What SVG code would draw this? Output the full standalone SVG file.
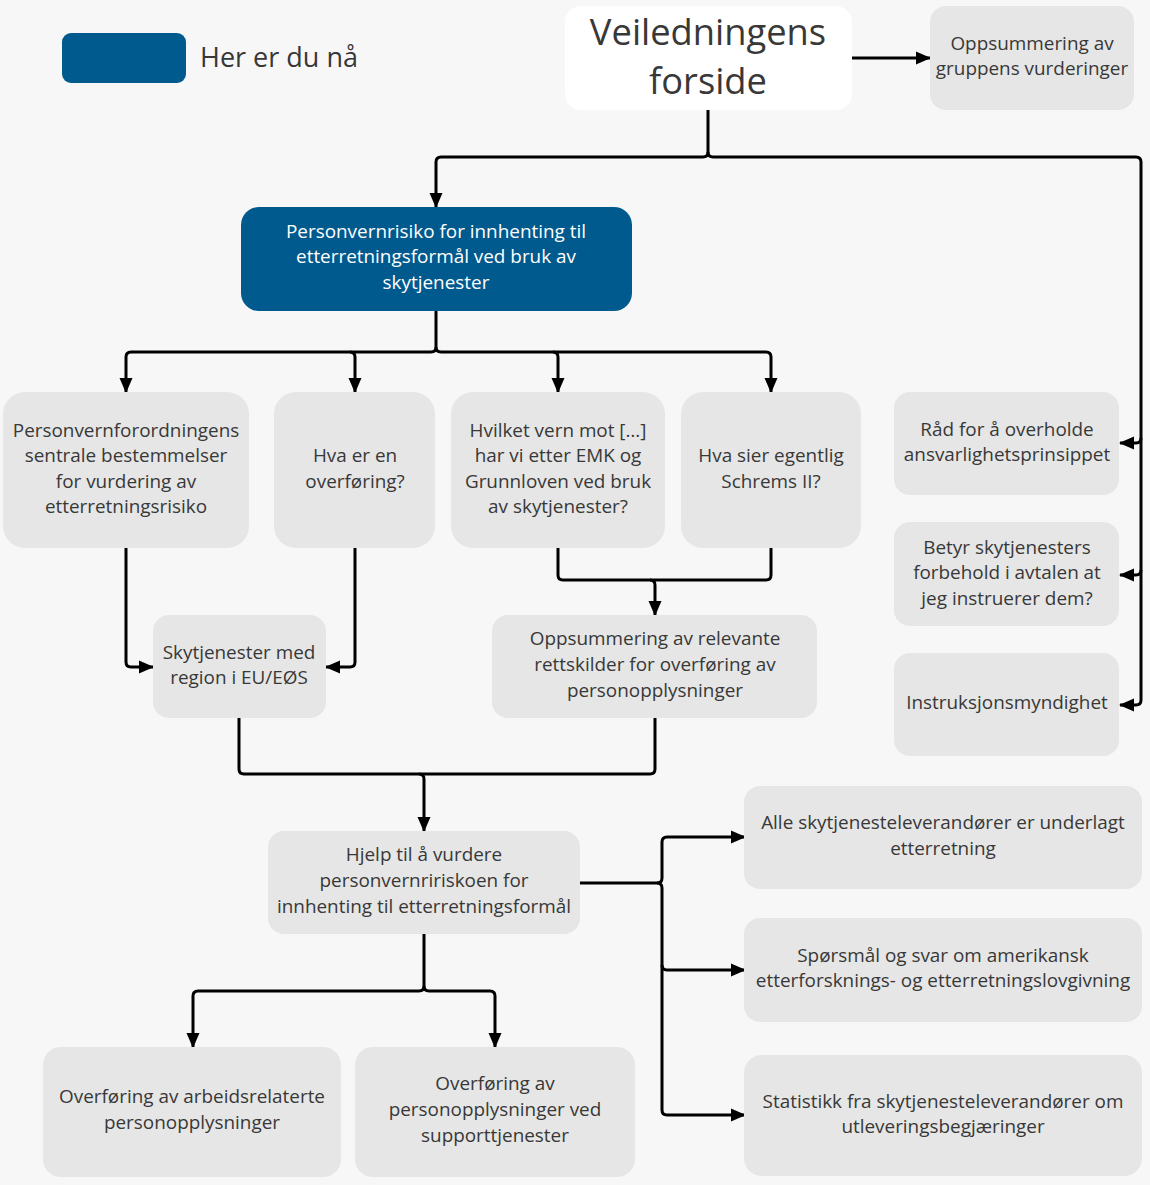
<svg xmlns="http://www.w3.org/2000/svg" width="1150" height="1185" viewBox="0 0 1150 1185">
<defs>
<style>
.n{fill:#e6e6e6}
.t{font-family:"Open Sans","Noto Sans",sans-serif;font-size:18.9px;fill:#383838;text-anchor:middle}
.w{fill:#fff}
.c{fill:none;stroke:#000;stroke-width:3;stroke-linejoin:round}
</style>
<marker id="a" markerUnits="userSpaceOnUse" markerWidth="16" markerHeight="14" refX="14" refY="7" orient="auto" viewBox="0 0 16 14">
<path d="M0,0.5 L15,7 L0,13.5 z" fill="#000"/>
</marker>
</defs>
<rect width="1150" height="1185" fill="#f7f7f7"/>
<g id="legend">
<rect x="62" y="33" width="124" height="50" rx="9" fill="#005a8e"/>
<text x="200" y="67" style="font-family:'Open Sans','Noto Sans',sans-serif;font-size:27px;fill:#383838">Her er du nå</text>
</g>
<g id="connectors" class="c">
<path class="c" d="M852,58 H930" marker-end="url(#a)"/>
<path class="c" d="M708,110 V152 Q708,157 703,157 H441 Q436,157 436,162 V207" marker-end="url(#a)"/>
<path class="c" d="M708,152 Q708,157 713,157 H1136 Q1141,157 1141,162 V700 Q1141,705 1136,705 H1120" marker-end="url(#a)"/>
<path class="c" d="M1141,438 Q1141,443 1136,443 H1120" marker-end="url(#a)"/>
<path class="c" d="M1141,570 Q1141,575 1136,575 H1120" marker-end="url(#a)"/>
<path class="c" d="M436,311 V347 Q436,352 431,352 H131 Q126,352 126,357 V392" marker-end="url(#a)"/>
<path class="c" d="M350,352 Q355,352 355,357 V392" marker-end="url(#a)"/>
<path class="c" d="M436,347 Q436,352 441,352 H766 Q771,352 771,357 V392" marker-end="url(#a)"/>
<path class="c" d="M553,352 Q558,352 558,357 V392" marker-end="url(#a)"/>
<path class="c" d="M126,548 V662 Q126,667 131,667 H153" marker-end="url(#a)"/>
<path class="c" d="M355,548 V662 Q355,667 350,667 H326" marker-end="url(#a)"/>
<path class="c" d="M558,548 V575 Q558,580 563,580 H766 Q771,580 771,575 V548"/>
<path class="c" d="M650,580 Q655,580 655,585 V615" marker-end="url(#a)"/>
<path class="c" d="M239,718 V769 Q239,774 244,774 H650 Q655,774 655,769 V718"/>
<path class="c" d="M419,774 Q424,774 424,779 V831" marker-end="url(#a)"/>
<path class="c" d="M580,883 H657 Q662,883 662,878 V842 Q662,837 667,837 H745" marker-end="url(#a)"/>
<path class="c" d="M657,883 Q662,883 662,888 V1110 Q662,1115 667,1115 H745" marker-end="url(#a)"/>
<path class="c" d="M662,965 Q662,970 667,970 H745" marker-end="url(#a)"/>
<path class="c" d="M424,934 V986 Q424,991 419,991 H198 Q193,991 193,996 V1047" marker-end="url(#a)"/>
<path class="c" d="M424,986 Q424,991 429,991 H490 Q495,991 495,996 V1047" marker-end="url(#a)"/>
</g>
<g id="forside">
<rect class="w" x="565" y="6" width="287" height="104" rx="16"/>
<text class="t" x="708" y="45" style="font-size:36.3px">Veiledningens</text>
<text class="t" x="708" y="94" style="font-size:36.3px">forside</text>
</g>
<g id="oppsummering-gruppe">
<rect class="n" x="930" y="6" width="204" height="104" rx="16"/>
<text class="t" x="1032" y="50">Oppsummering av</text>
<text class="t" x="1032" y="75">gruppens vurderinger</text>
</g>
<g id="personvernrisiko">
<rect x="241" y="207" width="391" height="104" rx="18" fill="#005a8e"/>
<text class="t" x="436" y="238" style="fill:#fff">Personvernrisiko for innhenting til</text>
<text class="t" x="436" y="263" style="fill:#fff">etterretningsformål ved bruk av</text>
<text class="t" x="436" y="289" style="fill:#fff">skytjenester</text>
</g>
<g id="personvernforordningen">
<rect class="n" x="3" y="392" width="246" height="156" rx="22"/>
<text class="t" x="126" y="437">Personvernforordningens</text>
<text class="t" x="126" y="462">sentrale bestemmelser</text>
<text class="t" x="126" y="488">for vurdering av</text>
<text class="t" x="126" y="513">etterretningsrisiko</text>
</g>
<g id="overforing">
<rect class="n" x="274" y="392" width="161" height="156" rx="22"/>
<text class="t" x="355" y="462">Hva er en</text>
<text class="t" x="355" y="488">overføring?</text>
</g>
<g id="vern">
<rect class="n" x="451" y="392" width="214" height="156" rx="22"/>
<text class="t" x="558" y="437">Hvilket vern mot […]</text>
<text class="t" x="558" y="462">har vi etter EMK og</text>
<text class="t" x="558" y="488">Grunnloven ved bruk</text>
<text class="t" x="558" y="513">av skytjenester?</text>
</g>
<g id="schrems">
<rect class="n" x="681" y="392" width="180" height="156" rx="22"/>
<text class="t" x="771" y="462">Hva sier egentlig</text>
<text class="t" x="771" y="488">Schrems II?</text>
</g>
<g id="raad">
<rect class="n" x="894" y="392" width="225" height="103" rx="16"/>
<text class="t" x="1007" y="436">Råd for å overholde</text>
<text class="t" x="1007" y="461">ansvarlighetsprinsippet</text>
</g>
<g id="betyr">
<rect class="n" x="894" y="522" width="225" height="104" rx="16"/>
<text class="t" x="1007" y="554">Betyr skytjenesters</text>
<text class="t" x="1007" y="579">forbehold i avtalen at</text>
<text class="t" x="1007" y="605">jeg instruerer dem?</text>
</g>
<g id="instruksjon">
<rect class="n" x="894" y="653" width="225" height="103" rx="16"/>
<text class="t" x="1007" y="709">Instruksjonsmyndighet</text>
</g>
<g id="eueos">
<rect class="n" x="153" y="615" width="173" height="103" rx="16"/>
<text class="t" x="239" y="659">Skytjenester med</text>
<text class="t" x="239" y="684">region i EU/EØS</text>
</g>
<g id="rettskilder">
<rect class="n" x="492" y="615" width="325" height="103" rx="16"/>
<text class="t" x="655" y="645">Oppsummering av relevante</text>
<text class="t" x="655" y="671">rettskilder for overføring av</text>
<text class="t" x="655" y="697">personopplysninger</text>
</g>
<g id="hjelp">
<rect class="n" x="268" y="831" width="312" height="103" rx="16"/>
<text class="t" x="424" y="861">Hjelp til å vurdere</text>
<text class="t" x="424" y="887">personvernririskoen for</text>
<text class="t" x="424" y="913">innhenting til etterretningsformål</text>
</g>
<g id="alle">
<rect class="n" x="744" y="786" width="398" height="103" rx="16"/>
<text class="t" x="943" y="829">Alle skytjenesteleverandører er underlagt</text>
<text class="t" x="943" y="855">etterretning</text>
</g>
<g id="sporsmal">
<rect class="n" x="744" y="918" width="398" height="104" rx="16"/>
<text class="t" x="943" y="962">Spørsmål og svar om amerikansk</text>
<text class="t" x="943" y="987">etterforsknings- og etterretningslovgivning</text>
</g>
<g id="statistikk">
<rect class="n" x="744" y="1055" width="398" height="121" rx="18"/>
<text class="t" x="943" y="1108">Statistikk fra skytjenesteleverandører om</text>
<text class="t" x="943" y="1133">utleveringsbegjæringer</text>
</g>
<g id="arbeid">
<rect class="n" x="43" y="1047" width="298" height="130" rx="18"/>
<text class="t" x="192" y="1103">Overføring av arbeidsrelaterte</text>
<text class="t" x="192" y="1129">personopplysninger</text>
</g>
<g id="support">
<rect class="n" x="355" y="1047" width="280" height="130" rx="18"/>
<text class="t" x="495" y="1090">Overføring av</text>
<text class="t" x="495" y="1116">personopplysninger ved</text>
<text class="t" x="495" y="1142">supporttjenester</text>
</g>
</svg>
